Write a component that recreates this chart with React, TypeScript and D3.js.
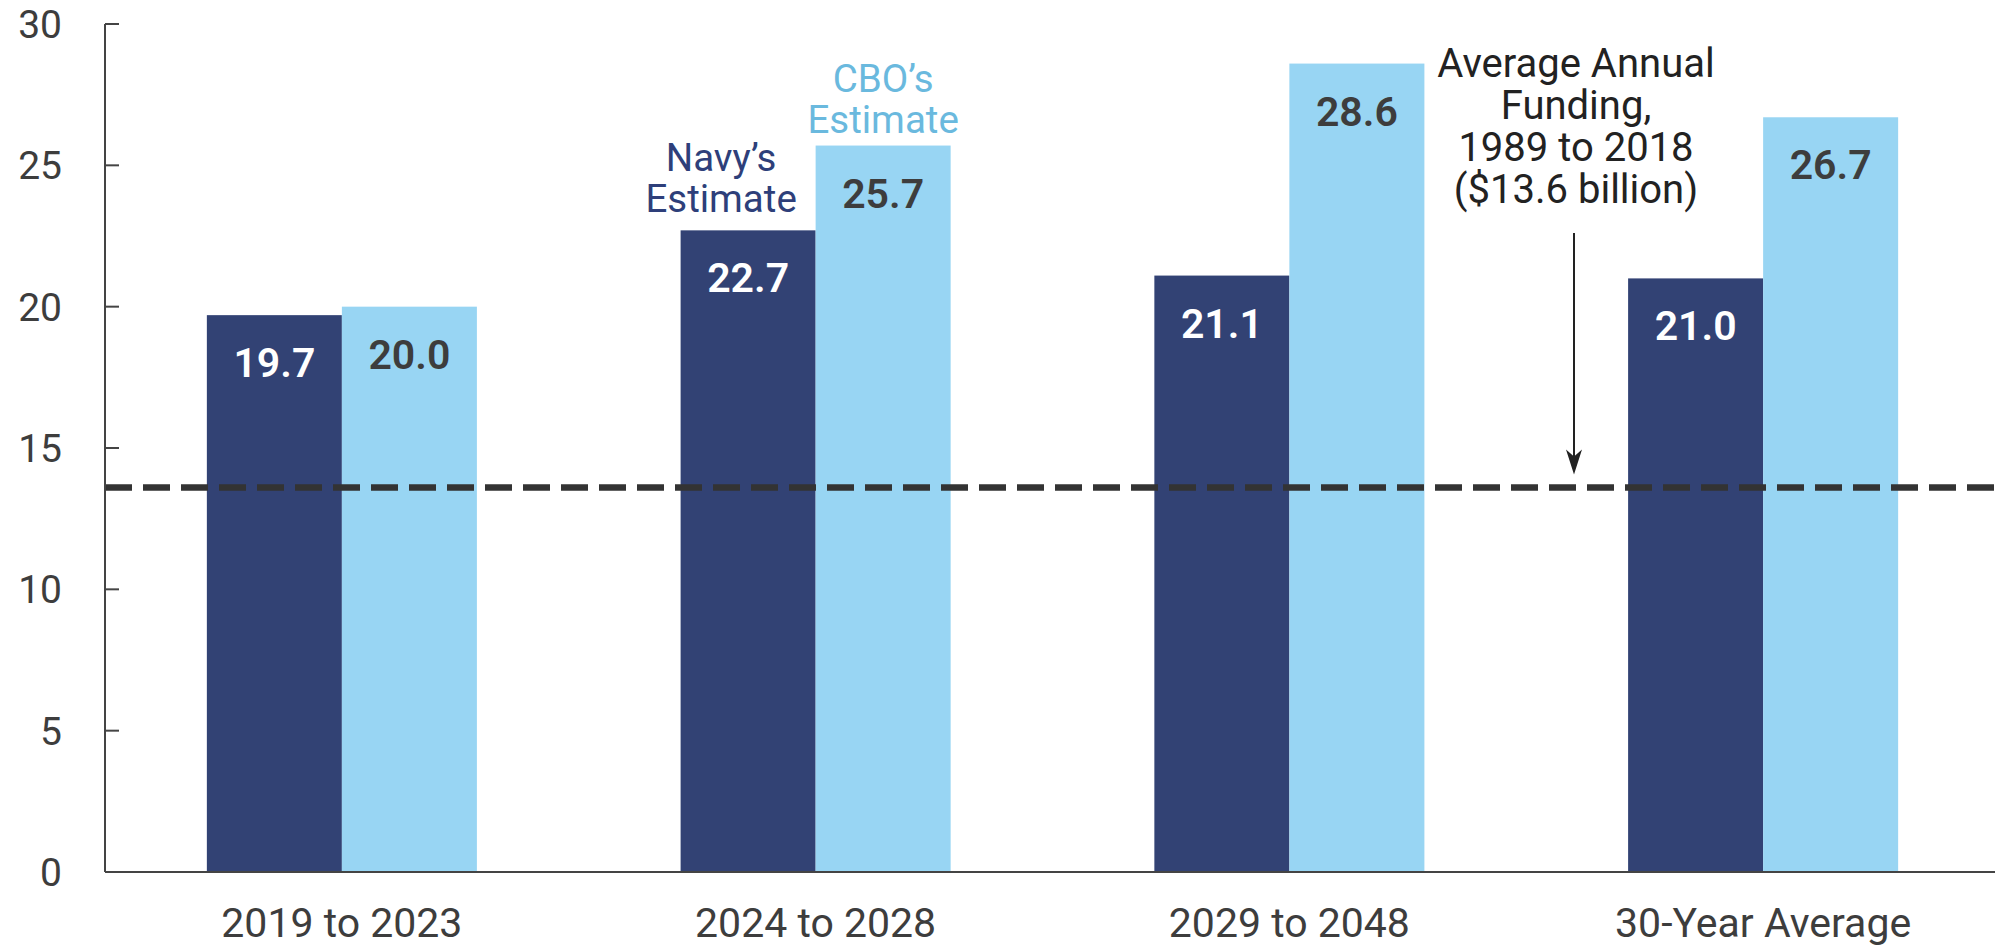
import React from "react";
import * as d3 from "d3";

const categories = ["2019 to 2023", "2024 to 2028", "2029 to 2048", "30-Year Average"];
const series = ["Navy's Estimate", "CBO's Estimate"];
const navyValues = [19.7, 22.7, 21.1, 21.0];
const cboValues = [20.0, 25.7, 28.6, 26.7];
const yTicks = [0, 5, 10, 15, 20, 25, 30];
const averageFunding = 13.6;
const annotationLines = ["Average Annual", "Funding,", "1989 to 2018", "($13.6 billion)"];

const W = 1995;
const H = 946;
const FONT = "Roboto, 'Open Sans', sans-serif";
const NAVY = "#324274";
const LIGHT = "#98d5f3";
const DARK = "#3d3d3d";

export default function App() {
  const x = d3.scaleBand<string>().domain(categories).range([105, 2000]).paddingInner(0.43).paddingOuter(0.215);
  const sub = d3.scaleBand<string>().domain(series).range([0, x.bandwidth()]).padding(0);
  const y = d3.scaleLinear().domain([0, 30]).range([872, 24]);
  const valuesBySeries = [navyValues, cboValues];
  const fills = [NAVY, LIGHT];
  const labelFills = ["#ffffff", DARK];

  const g2 = x(categories[1])!;
  const navyCenter2 = g2 + sub(series[0])! + sub.bandwidth() / 2;
  const cboCenter2 = g2 + sub(series[1])! + sub.bandwidth() / 2;
  const arrowX = 1574;
  const avgY = y(averageFunding);

  return (
    <svg width={W} height={H} style={{ position: "absolute", left: 0, top: 0, background: "#fff" }} fontFamily={FONT}>
      {/* bars */}
      {categories.map((c, i) =>
        series.map((s, j) => {
          const v = valuesBySeries[j][i];
          const bx = x(c)! + sub(s)!;
          return (
            <rect key={c + s} x={bx} y={y(v)} width={sub.bandwidth()} height={y(0) - y(v)} fill={fills[j]} />
          );
        })
      )}
      {/* value labels */}
      {categories.map((c, i) =>
        series.map((s, j) => {
          const v = valuesBySeries[j][i];
          const cx = x(c)! + sub(s)! + sub.bandwidth() / 2;
          return (
            <text key={"l" + c + s} x={cx} y={y(v) + 62} textAnchor="middle" fontSize={41} fontWeight={600} fill={labelFills[j]}>
              {v.toFixed(1)}
            </text>
          );
        })
      )}
      {/* dashed average line */}
      <line x1={105} x2={W} y1={avgY} y2={avgY} stroke="#333" strokeWidth={6.5} strokeDasharray="27 11" />
      {/* y axis */}
      <line x1={105} x2={105} y1={y(30)} y2={y(0)} stroke="#444" strokeWidth={2} />
      {yTicks.map((t) => (
        <g key={t}>
          <line x1={105} x2={119} y1={y(t)} y2={y(t)} stroke="#444" strokeWidth={2} />
          <text x={62} y={y(t) + 14} textAnchor="end" fontSize={39} fill={DARK}>
            {t}
          </text>
        </g>
      ))}
      {/* x axis */}
      <line x1={105} x2={W} y1={y(0)} y2={y(0)} stroke="#444" strokeWidth={2} />
      {categories.map((c) => (
        <text key={"x" + c} x={x(c)! + x.bandwidth() / 2} y={937} textAnchor="middle" fontSize={41} fill={DARK}>
          {c}
        </text>
      ))}
      {/* series labels */}
      <text x={navyCenter2 - 27} y={171} textAnchor="middle" fontSize={38.5} fill="#2e3f7a">
        <tspan x={navyCenter2 - 27}>Navy’s</tspan>
        <tspan x={navyCenter2 - 27} dy={41}>Estimate</tspan>
      </text>
      <text x={cboCenter2} y={92} textAnchor="middle" fontSize={38.5} fill="#6ab9de">
        <tspan x={cboCenter2}>CBO’s</tspan>
        <tspan x={cboCenter2} dy={41}>Estimate</tspan>
      </text>
      {/* annotation */}
      <text textAnchor="middle" fontSize={40} fill="#222">
        {annotationLines.map((l, i) => (
          <tspan key={l} x={1576} y={77 + i * 42}>
            {l}
          </tspan>
        ))}
      </text>
      <line x1={arrowX} x2={arrowX} y1={233} y2={avgY - 24} stroke="#222" strokeWidth={2} />
      <path d={`M${arrowX - 8},${avgY - 38} L${arrowX},${avgY - 13} L${arrowX + 8},${avgY - 38} L${arrowX},${avgY - 31} Z`} fill="#222" />
    </svg>
  );
}
